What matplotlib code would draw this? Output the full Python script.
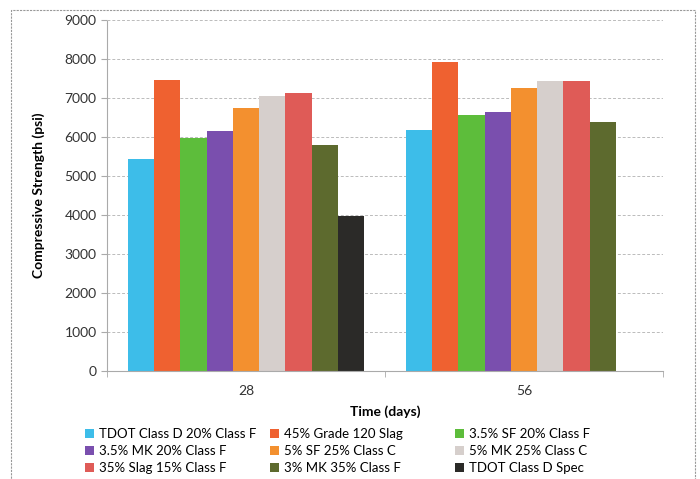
import numpy as np
import matplotlib
matplotlib.use('Agg')
import matplotlib.pyplot as plt
from matplotlib.patches import Rectangle

plt.rcParams['font.family'] = ['Lato', 'DejaVu Sans']

categories = ['28', '56']
series = ['TDOT Class D 20% Class F', '45% Grade 120 Slag', '3.5% SF 20% Class F',
          '3.5% MK 20% Class F', '5% SF 25% Class C', '5% MK 25% Class C',
          '35% Slag 15% Class F', '3% MK 35% Class F', 'TDOT Class D Spec']
values = [
    [5450, 6180],
    [7460, 7920],
    [5970, 6560],
    [6150, 6640],
    [6740, 7260],
    [7050, 7440],
    [7130, 7440],
    [5800, 6380],
    [3980, np.nan],
]
colors = ['#3dbde9', '#ef6130', '#5dbd3b', '#7a4fae', '#f3902f', '#d6cfcc',
          '#df5b57', '#5d6a2e', '#2b2a28']

fig = plt.figure(figsize=(7, 4.79), dpi=100)
ax = fig.add_axes([0.153, 0.2255, 0.794, 0.7325])

x = np.arange(len(categories))
w = 0.85 / len(series)
handles = []
for i, (name, vals, c) in enumerate(zip(series, values, colors)):
    b = ax.bar(x - 0.425 + w * (i + 0.5), vals, w, color=c, label=name)
    handles.append(b)

ax.set_xlim(-0.5, 1.5)
ax.set_ylim(0, 9000)
ax.set_yticks(range(0, 9001, 1000))
ax.set_xticks(x)
ax.set_xticklabels(categories, fontsize=10, color='#333333')
ax.set_xticks([-0.5, 0.5, 1.5], minor=True)
ax.tick_params(axis='x', which='major', length=0, pad=10)
ax.tick_params(axis='x', which='minor', length=4, color='#aaaaaa')
ax.tick_params(axis='y', length=4, color='#aaaaaa', labelsize=10, labelcolor='#333333')
ax.grid(axis='y', linestyle=(0, (3, 2)), color='#bbbbbb', linewidth=0.7)
ax.set_axisbelow(True)
for s in ['top', 'right']:
    ax.spines[s].set_visible(False)
for s in ['left', 'bottom']:
    ax.spines[s].set_color('#aaaaaa')
    ax.spines[s].set_linestyle((0, (3, 1)))

ax.set_xlabel('Time (days)', fontsize=10, fontweight='bold', labelpad=6)
ax.set_ylabel('Compressive Strength (psi)', fontsize=10, fontweight='bold', labelpad=14)

# legend laid out row by row, three columns
col_x = [85, 270, 455]
for col in range(3):
    idx = [col, col + 3, col + 6]
    leg = fig.legend([handles[k] for k in idx], [series[k] for k in idx],
                     loc='upper left', bbox_to_anchor=(col_x[col] / 700, 1 - 428 / 479),
                     frameon=False, fontsize=9.5, handlelength=0.7, handleheight=0.7,
                     handletextpad=0.35, labelspacing=0.38, borderpad=0, borderaxespad=0)

fig.patches.append(Rectangle((11 / 700, -0.05), 684 / 700, 1 - 10 / 479 + 0.05,
                             transform=fig.transFigure, fill=False,
                             edgecolor='#999999', linestyle=(0, (2, 1)), linewidth=0.8))

fig.savefig('out.png', dpi=100)
